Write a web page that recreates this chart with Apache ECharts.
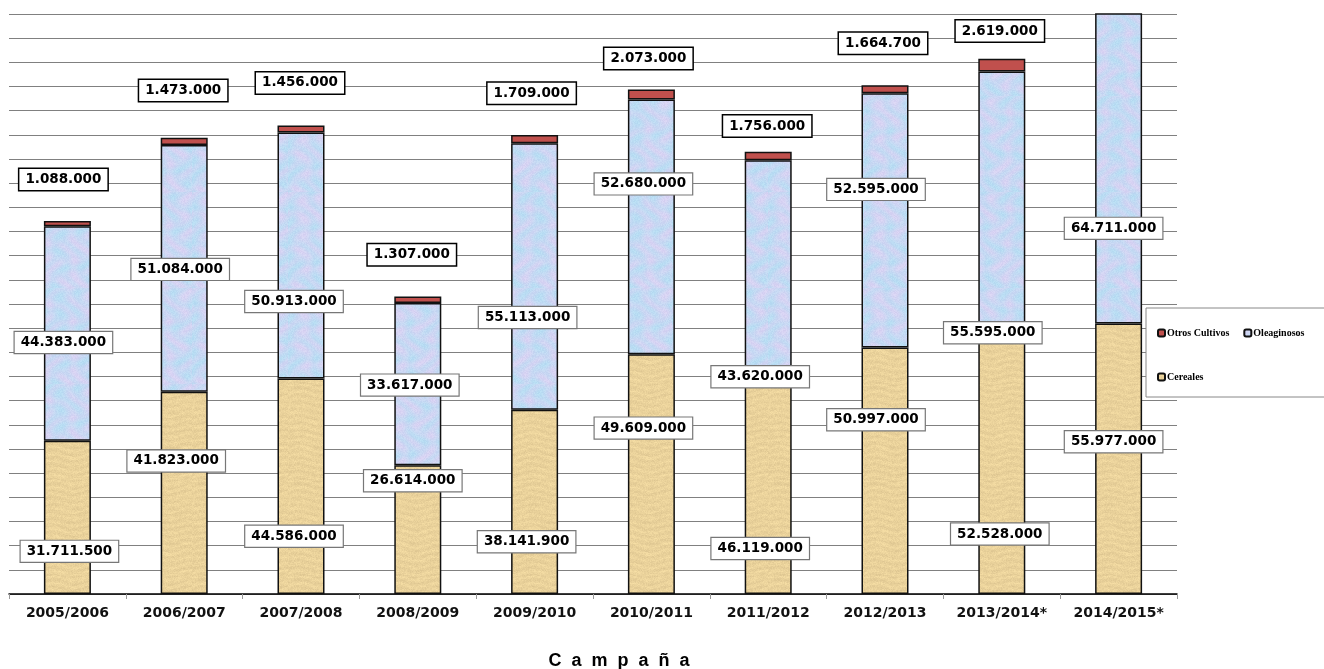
<!DOCTYPE html>
<html><head><meta charset="utf-8">
<script src="https://cdn.jsdelivr.net/npm/echarts@6/dist/echarts.min.js"></script>
<style>html,body{margin:0;padding:0;background:#fff}#c{width:1324px;height:669px}</style>
</head><body><div id="c"></div>
<script>
const campaigns = ['2005/2006','2006/2007','2007/2008','2008/2009','2009/2010','2010/2011','2011/2012','2012/2013','2013/2014*','2014/2015*'];
const cereales = [31711500, 41823000, 44586000, 26614000, 38141900, 49609000, 46119000, 50997000, 52528000, 55977000];
const oleaginosos = [44383000, 51084000, 50913000, 33617000, 55113000, 52680000, 43620000, 52595000, 55595000, 64711000];
const otrosCultivos = [1088000, 1473000, 1456000, 1307000, 1709000, 2073000, 1756000, 1664700, 2619000, null];

// label layout shifts (pixels, relative to bar segment centre)
const cerealesLabelShift = [[2,34],[-8,-32],[-7,50],[-5,-49],[-8,40],[-8,-46],[-8,66],[-9,-51],[-2,67],[-5,-17]];
const oleaginososLabelShift = [[-4,9],[-4,1],[-7,46],[-8,1],[-7,41],[-8,-43],[-8,111],[-9,-31],[-9,127],[-5,60]];
const otrosLabelShift = [[-4,-44],[-1,-51],[-1,-46],[-6,-45],[-3,-46],[-3,-36],[-1,-30],[-2,-46],[-2,-34],[0,0]];

function fmt(v){ return String(v).replace(/\B(?=(\d{3})+(?!\d))/g,'.'); }
function h(x,y,s){ const t=Math.sin(x*12.9898+y*78.233+s*37.719)*43758.5453; return t-Math.floor(t); }

function makeTexture(kind){
  const c=document.createElement('canvas'); c.width=96; c.height=96;
  const ctx=c.getContext('2d'); const img=ctx.createImageData(96,96); const d=img.data;
  for(let y=0;y<96;y++){for(let x=0;x<96;x++){
    const i=(y*96+x)*4; let r,g,b;
    if(kind==='cer'){
      const n=(h(x,y,1)-0.5)*14 + Math.sin(y*0.9+Math.sin(x*0.15)*2)*4 + (h(Math.floor(x/6),y,2)-0.5)*6;
      r=234+n; g=210+n; b=155+n*0.8;
    } else {
      const a=Math.sin(x*0.21+Math.sin(y*0.17)*1.8)*Math.cos(y*0.19+Math.sin(x*0.13)*1.5);
      const n=(h(x,y,3)-0.5)*12;
      r=200+a*16+n; g=216-a*5+n; b=243+n*0.5;
    }
    d[i]=Math.max(0,Math.min(255,r)); d[i+1]=Math.max(0,Math.min(255,g)); d[i+2]=Math.max(0,Math.min(255,b)); d[i+3]=255;
  }}
  ctx.putImageData(img,0,0);
  return c;
}
const cerPattern={image:makeTexture('cer'),repeat:'repeat'};
const olePattern={image:makeTexture('ole'),repeat:'repeat'};

const labelFont={fontFamily:'DejaVu Sans',fontWeight:'bold',fontSize:13.5,color:'#000',backgroundColor:'#fff',padding:[4,6,3,6]};

function buildData(values, shifts){
  return values.map((v,i)=>({value:v,label:{offset:shifts[i]}}));
}

const chart=echarts.init(document.getElementById('c'),null,{renderer:'canvas'});
chart.setOption({
  animation:false,
  backgroundColor:'#fff',
  grid:{left:9,right:147,top:14,bottom:75,containLabel:false},
  xAxis:{type:'category',data:campaigns,
    axisLine:{lineStyle:{color:'#000',width:1.5}},
    axisTick:{show:true,length:5,lineStyle:{color:'#999'}},
    axisLabel:{fontFamily:'DejaVu Sans',fontWeight:'bold',fontSize:14,color:'#111',margin:12,interval:0}},
  yAxis:{type:'value',min:0,max:120000000,interval:5000000,
    axisLine:{show:false},axisTick:{show:false},axisLabel:{show:false},
    splitLine:{lineStyle:{color:'#808080',width:1}}},
  legend:[
    {data:['Otros Cultivos','Oleaginosos'],left:1152,top:323,itemGap:14,itemWidth:7,itemHeight:7,z:10,
      textStyle:{fontFamily:'Liberation Serif',fontWeight:'bold',fontSize:10,color:'#000',padding:[0,0,0,-3]},selectedMode:false},
    {data:['Cereales'],left:1152,top:367,itemWidth:7,itemHeight:7,z:10,
      textStyle:{fontFamily:'Liberation Serif',fontWeight:'bold',fontSize:10,color:'#000',padding:[0,0,0,-3]},selectedMode:false}
  ],
  graphic:[
    {type:'rect',shape:{x:1146,y:308,width:200,height:89},style:{fill:'#fff',stroke:'#888',lineWidth:1},z:5},
    {type:'text',x:619,y:661,style:{text:'C  a  m  p  a  ñ  a',font:'bold 18px "Liberation Sans"',fill:'#000',textAlign:'center',textVerticalAlign:'middle'},z:5}
  ],
  series:[
    {name:'Cereales',type:'bar',stack:'t',barWidth:47,data:buildData(cereales,cerealesLabelShift),
      itemStyle:{color:cerPattern,borderColor:'#111',borderWidth:1.5},
      label:{show:true,position:'inside',formatter:p=>fmt(p.value),...labelFont,borderColor:'#777',borderWidth:1.2}},
    {name:'Oleaginosos',type:'bar',stack:'t',barWidth:47,data:buildData(oleaginosos,oleaginososLabelShift),
      itemStyle:{color:olePattern,borderColor:'#111',borderWidth:1.5},
      label:{show:true,position:'inside',formatter:p=>fmt(p.value),...labelFont,borderColor:'#777',borderWidth:1.2}},
    {name:'Otros Cultivos',type:'bar',stack:'t',barWidth:47,data:buildData(otrosCultivos,otrosLabelShift),
      itemStyle:{color:'#C0504D',borderColor:'#111',borderWidth:1.5},
      label:{show:true,position:'inside',formatter:p=>p.value==null?'':fmt(p.value),...labelFont,borderColor:'#000',borderWidth:1.5}}
  ]
});
</script></body></html>
